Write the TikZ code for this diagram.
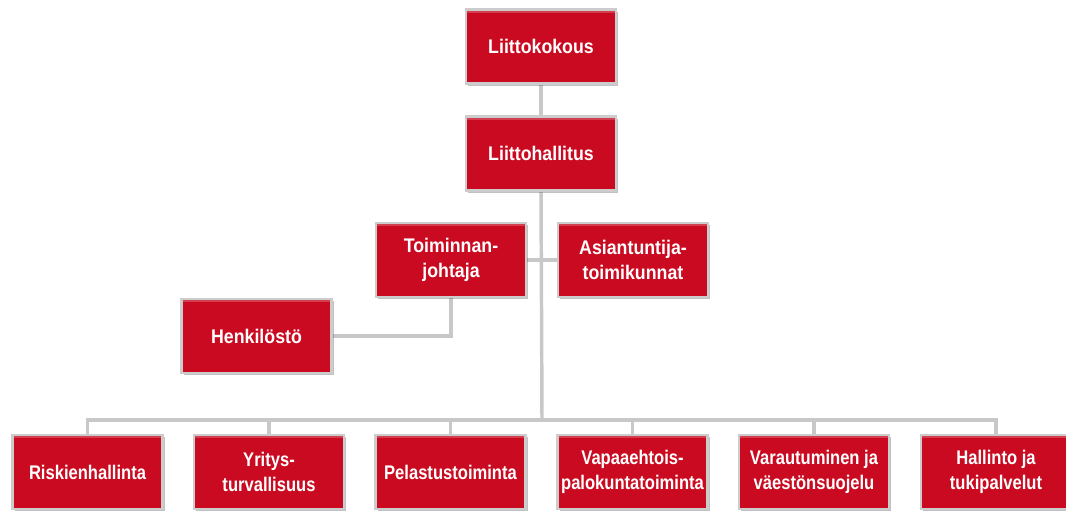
\documentclass[tikz,border=0pt]{standalone}
\usepackage{fontspec}
\newfontfamily\topfont[FakeStretch=0.9]{Liberation Sans}
\newfontfamily\lowfont[FakeStretch=0.84]{Liberation Sans}
\usetikzlibrary{shadows,backgrounds}
\definecolor{boxred}{RGB}{201,10,32}
\definecolor{boxframe}{RGB}{204,204,204}
\definecolor{linkgray}{RGB}{200,200,200}
\tikzset{
  orgbox/.style={rectangle, minimum width=112.5pt, minimum height=55.5pt,
    inner sep=1pt, fill=boxred, draw=boxframe, line width=2.2pt,
    text=white, align=center,
    drop shadow={shadow xshift=1.6pt, shadow yshift=-1.6pt, opacity=0.35, fill=black!70},
    path picture={\fill[white, opacity=0.22]
      (path picture bounding box.north west) rectangle
      ([yshift=-2.5pt]path picture bounding box.north east);}},
  topbox/.style={orgbox, font=\topfont\bfseries\fontsize{14.8}{18.5}\selectfont},
  lowbox/.style={orgbox, font=\lowfont\bfseries\fontsize{14.8}{18.5}\selectfont},
  link/.style={draw=linkgray, line width=2.6pt}
}
\begin{document}
\begin{tikzpicture}[x=0.75pt, y=-0.75pt]
\useasboundingbox (0,0) rectangle (1066,510);
\clip (0,0) rectangle (1066,510);
\node[topbox] (kokous)   at (541,46.5)  {Liittokokous};
\node[topbox] (hallitus) at (541,153.5) {Liittohallitus};
\node[topbox] (toim)     at (451,260)   {Toiminnan-\\johtaja};
\node[topbox] (asi)      at (633,260)   {Asiantuntija-\\toimikunnat};
\node[topbox] (henk)     at (256.5,336) {Henkilöstö};
\node[lowbox] (b1) at (87.5,472)  {Riskienhallinta};
\node[lowbox] (b2) at (269,472)   {Yritys-\\turvallisuus};
\node[lowbox] (b3) at (450.5,472) {Pelastustoiminta};
\node[lowbox] (b4) at (632.5,472) {Vapaaehtois-\\palokuntatoiminta};
\node[lowbox] (b5) at (814,472)   {Varautuminen ja\\väestönsuojelu};
\node[lowbox] (b6) at (996,472)   {Hallinto ja\\tukipalvelut};
\coordinate (bar) at (542,420);
\begin{scope}[on background layer]
\draw[link] (kokous.south) -- (hallitus.north);
\draw[link] (hallitus.south) -- (bar);
\draw[link] (toim.east) -- (asi.west);
\draw[link] (toim.south) |- (henk.east);
\draw[link] (b1.north) |- (b6.north |- bar) -- (b6.north);
\foreach \b in {b2,b3,b4,b5} \draw[link] (\b.north) -- (\b.north |- bar);
\end{scope}
\end{tikzpicture}
\end{document}
